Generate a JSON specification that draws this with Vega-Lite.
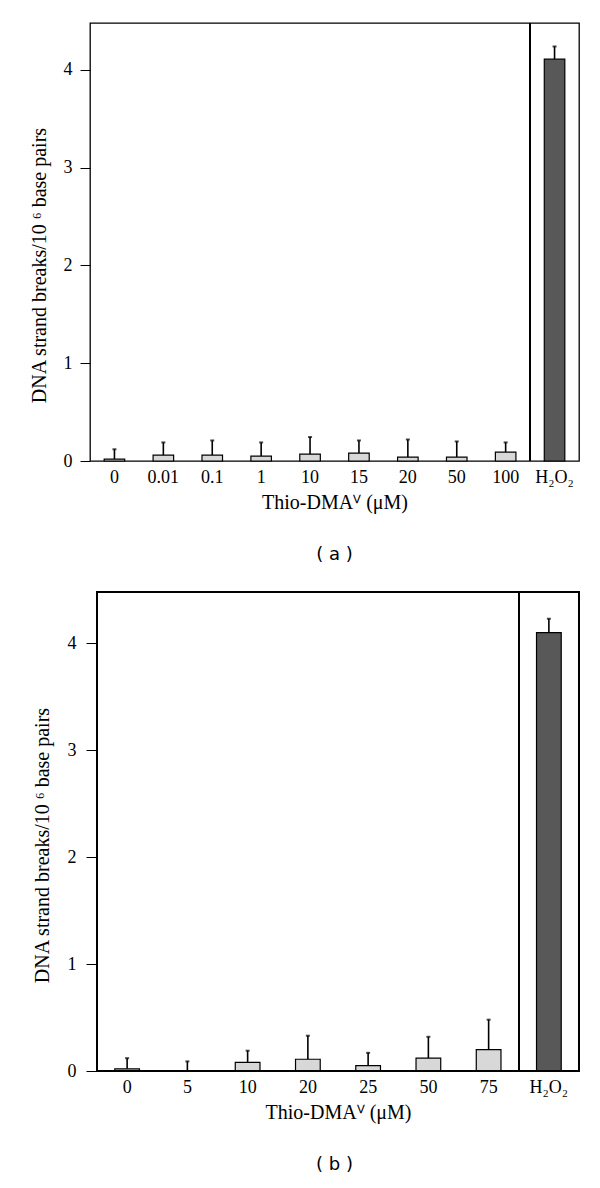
{
  "$schema": "https://vega.github.io/schema/vega-lite/v6.json",
  "padding": {"top": 21, "left": 28, "right": 10, "bottom": 5},
  "background": "white",
  "spacing": 26,
  "config": {
    "font": "Liberation Serif",
    "view": {"stroke": "black", "strokeWidth": 1.3},
    "axis": {"labelColor": "black", "titleColor": "black", "tickColor": "black", "domainColor": "black", "labelFontSize": 18, "titleFontSize": 20, "titleFontWeight": "normal", "grid": false, "domain": false, "labelFont": "Liberation Serif", "titleFont": "Liberation Serif"},
    "title": {"font": "DejaVu Sans", "fontSize": 18, "fontWeight": "normal", "color": "black"}
  },
  "vconcat": [
    {
      "width": 489,
      "height": 438,
      "title": {"text": "( a )", "orient": "bottom", "offset": 34},
      "data": {"values": [
        {"cat": "0", "group": "thio", "value": 0.02, "upper": 0.12},
        {"cat": "0.01", "group": "thio", "value": 0.06, "upper": 0.19},
        {"cat": "0.1", "group": "thio", "value": 0.06, "upper": 0.21},
        {"cat": "1", "group": "thio", "value": 0.05, "upper": 0.19},
        {"cat": "10", "group": "thio", "value": 0.07, "upper": 0.245},
        {"cat": "15", "group": "thio", "value": 0.08, "upper": 0.21},
        {"cat": "20", "group": "thio", "value": 0.04, "upper": 0.22},
        {"cat": "50", "group": "thio", "value": 0.04, "upper": 0.2},
        {"cat": "100", "group": "thio", "value": 0.09, "upper": 0.19},
        {"cat": "H₂O₂", "group": "h2o2", "value": 4.11, "upper": 4.24}
      ]},
      "encoding": {
        "x": {"field": "cat", "type": "nominal", "sort": null,
              "scale": {"paddingInner": 0, "paddingOuter": 0},
              "axis": {"title": "Thio-DMAⱽ (μM)", "labelAngle": 0, "ticks": false, "labelPadding": 7, "titlePadding": 6}}
      },
      "layer": [
        {"mark": {"type": "rule", "color": "black", "strokeWidth": 1.6},
         "encoding": {
           "y": {"field": "value", "type": "quantitative", "scale": {"domain": [0, 4.48], "nice": false},
                 "axis": {"title": "DNA strand breaks/10 ⁶ base pairs", "values": [0, 1, 2, 3, 4], "format": "d", "tickSize": 10, "labelPadding": 8, "titlePadding": 14, "titleY": 242}},
           "y2": {"field": "upper"}}},
        {"mark": {"type": "bar", "width": {"band": 0.42}, "stroke": "black", "strokeWidth": 1.2},
         "encoding": {
           "y": {"field": "value", "type": "quantitative"},
           "color": {"field": "group", "type": "nominal", "scale": {"domain": ["thio", "h2o2"], "range": ["#d8d8d8", "#585858"]}, "legend": null}}},
        {"mark": {"type": "tick", "orient": "horizontal", "size": 4, "thickness": 2, "color": "black"},
         "encoding": {"y": {"field": "upper", "type": "quantitative"}}},
        {"mark": {"type": "rule", "color": "black", "strokeWidth": 1.3},
         "encoding": {"x": {"datum": "H₂O₂", "type": "nominal", "bandPosition": 0}}}
      ]
    },
    {
      "width": 489,
      "height": 479,
      "view": {"stroke": null},
      "title": {"text": "( b )", "orient": "bottom", "offset": 34},
      "data": {"values": [
        {"cat": "0", "group": "thio", "value": 0.02, "upper": 0.12},
        {"cat": "5", "group": "thio", "value": 0.0, "upper": 0.09},
        {"cat": "10", "group": "thio", "value": 0.08, "upper": 0.19},
        {"cat": "20", "group": "thio", "value": 0.11, "upper": 0.33},
        {"cat": "25", "group": "thio", "value": 0.05, "upper": 0.17},
        {"cat": "50", "group": "thio", "value": 0.12, "upper": 0.32},
        {"cat": "75", "group": "thio", "value": 0.2, "upper": 0.48},
        {"cat": "H₂O₂", "group": "h2o2", "value": 4.1, "upper": 4.23}
      ]},
      "encoding": {
        "x": {"field": "cat", "type": "nominal", "sort": null,
              "scale": {"paddingInner": 0, "paddingOuter": 0, "range": [7, 489]},
              "axis": {"title": "Thio-DMAⱽ (μM)", "labelAngle": 0, "ticks": false, "labelPadding": 7, "titlePadding": 6}}
      },
      "layer": [
        {"mark": {"type": "rule", "color": "black", "strokeWidth": 1.6},
         "encoding": {
           "y": {"field": "value", "type": "quantitative", "scale": {"domain": [0, 4.48], "nice": false},
                 "axis": {"title": "DNA strand breaks/10 ⁶ base pairs", "values": [0, 1, 2, 3, 4], "format": "d", "tickSize": 11, "labelPadding": 10, "titlePadding": 15, "offset": -7, "titleY": 253}},
           "y2": {"field": "upper"}}},
        {"mark": {"type": "bar", "width": {"band": 0.41}, "stroke": "black", "strokeWidth": 1.2},
         "encoding": {
           "y": {"field": "value", "type": "quantitative"},
           "color": {"field": "group", "type": "nominal", "scale": {"domain": ["thio", "h2o2"], "range": ["#d8d8d8", "#585858"]}, "legend": null}}},
        {"mark": {"type": "tick", "orient": "horizontal", "size": 4, "thickness": 2, "color": "black"},
         "encoding": {"y": {"field": "upper", "type": "quantitative"}}},
        {"mark": {"type": "rule", "color": "black", "strokeWidth": 1.3},
         "encoding": {"x": {"datum": "H₂O₂", "type": "nominal", "bandPosition": 0}}},
        {"mark": {"type": "rect", "fill": null, "fillOpacity": 0, "stroke": "black", "strokeWidth": 1.3},
         "encoding": {
           "x": {"datum": "0", "type": "nominal", "bandPosition": 0},
           "x2": {"datum": "H₂O₂", "bandPosition": 1},
           "y": {"datum": 0, "type": "quantitative"},
           "y2": {"datum": 4.48}}}
      ]
    }
  ]
}
